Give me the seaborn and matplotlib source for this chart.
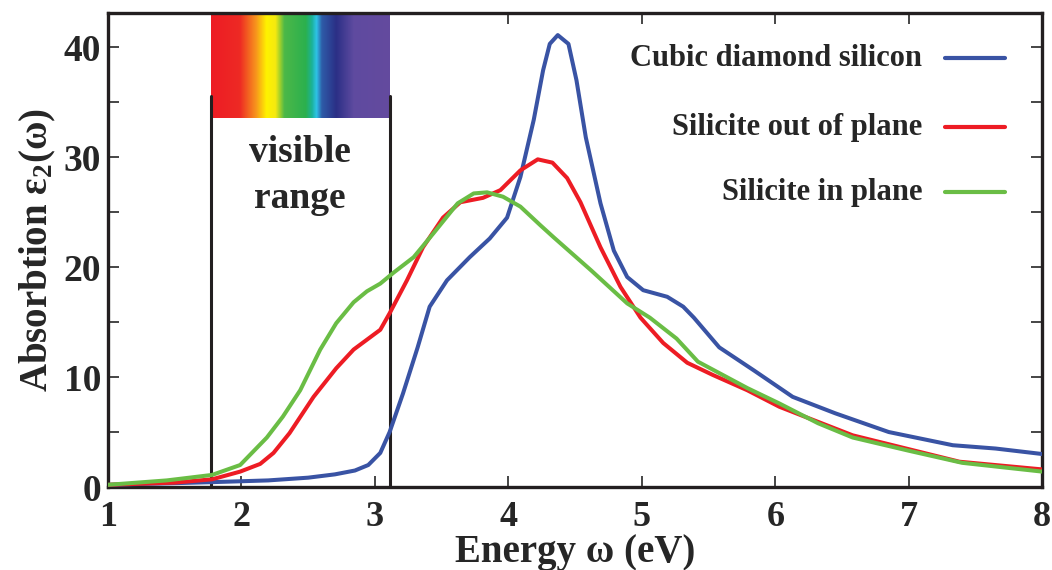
import numpy as np
import pandas as pd
import matplotlib
matplotlib.use("Agg")
import matplotlib.pyplot as plt
from matplotlib.colors import LinearSegmentedColormap
import seaborn as sns

sns.set_style("ticks")
plt.rcParams['font.family'] = ['Liberation Serif', 'DejaVu Serif']
plt.rcParams['font.weight'] = 'bold'
plt.rcParams['mathtext.fontset'] = 'custom'
plt.rcParams['mathtext.rm'] = 'Liberation Serif:bold'
plt.rcParams['mathtext.it'] = 'Liberation Serif:bold'
plt.rcParams['mathtext.bf'] = 'Liberation Serif:bold'

# cubic diamond silicon
e_cubic = [1.0, 1.5, 1.8, 2.2, 2.5, 2.7, 2.85, 2.95, 3.04, 3.11, 3.21, 3.32, 3.41, 3.54,
           3.71, 3.86, 3.99, 4.09, 4.19, 4.26, 4.31, 4.37, 4.45, 4.51, 4.58, 4.69, 4.79,
           4.89, 5.01, 5.19, 5.31, 5.39, 5.58, 5.84, 6.13, 6.45, 6.85, 7.33, 7.65, 8.0]
a_cubic = [0.2, 0.35, 0.45, 0.6, 0.85, 1.15, 1.5, 2.0, 3.1, 5.0, 8.5, 12.7, 16.4, 18.8,
           20.9, 22.6, 24.5, 28.2, 33.4, 37.9, 40.3, 41.1, 40.3, 37.0, 31.8, 25.8, 21.5,
           19.1, 17.9, 17.3, 16.4, 15.4, 12.7, 10.6, 8.2, 6.7, 5.0, 3.8, 3.5, 3.0]

# silicite out of plane
e_out = [1.0, 1.5, 1.78, 1.99, 2.14, 2.24, 2.36, 2.54, 2.71, 2.84, 3.04, 3.11, 3.24, 3.36,
         3.51, 3.64, 3.81, 3.94, 4.09, 4.22, 4.33, 4.44, 4.54, 4.69, 4.84, 4.99,
         5.16, 5.34, 5.53, 5.79, 6.03, 6.22, 6.58, 6.98, 7.38, 8.0]
a_out = [0.2, 0.4, 0.7, 1.4, 2.1, 3.1, 4.9, 8.2, 10.8, 12.5, 14.3, 15.8, 18.8, 21.8,
         24.5, 25.9, 26.3, 27.0, 28.8, 29.8, 29.5, 28.1, 25.9, 21.8, 18.2, 15.4,
         13.1, 11.3, 10.2, 8.8, 7.3, 6.4, 4.7, 3.5, 2.3, 1.6]

# silicite in plane
e_in = [1.0, 1.44, 1.78, 1.99, 2.19, 2.31, 2.44, 2.59, 2.71, 2.84, 2.94, 3.04, 3.14, 3.29,
        3.44, 3.62, 3.74, 3.84, 3.96, 4.09, 4.24, 4.34, 4.62, 4.89, 5.06, 5.26, 5.42,
        5.79, 6.03, 6.32, 6.58, 7.0, 7.4, 8.0]
a_in = [0.2, 0.6, 1.1, 2.0, 4.5, 6.4, 8.8, 12.5, 14.9, 16.8, 17.8, 18.5, 19.5, 20.9,
        23.1, 25.8, 26.7, 26.8, 26.4, 25.5, 23.8, 22.7, 19.7, 16.7, 15.4, 13.5, 11.4,
        9.0, 7.6, 5.8, 4.5, 3.3, 2.2, 1.4]

labels = ["Cubic diamond silicon", "Silicite out of plane", "Silicite in plane"]
colors = ["#3953a4", "#ed1c24", "#6abd45"]
visible = [1.77, 3.11]

df = pd.concat([
    pd.DataFrame({"E": e_cubic, "eps": a_cubic, "s": labels[0]}),
    pd.DataFrame({"E": e_out, "eps": a_out, "s": labels[1]}),
    pd.DataFrame({"E": e_in, "eps": a_in, "s": labels[2]}),
])

fig = plt.figure(figsize=(10.52, 5.7), dpi=100)
ax = fig.add_axes([0.1027, 0.1456, 0.888, 0.8314])

# visible spectrum strip
spec = LinearSegmentedColormap.from_list("spec", [
    (0.0, "#ed1c24"), (0.16, "#ee2a24"), (0.25, "#f7941d"), (0.31, "#fff200"),
    (0.36, "#f5e90f"), (0.41, "#4cb848"), (0.53, "#2bb04e"), (0.565, "#1bb39a"),
    (0.59, "#2ec4e8"), (0.62, "#2e5ca8"), (0.7, "#2b2f86"), (0.8, "#5f4ba0"),
    (1.0, "#644a9e")])
ax.imshow(np.linspace(0, 1, 256)[None, :], cmap=spec, aspect="auto",
          extent=[visible[0], visible[1], 33.6, 43.1], zorder=1)
for v in visible:
    ax.plot([v, v], [0, 35.6], color="#231f20", lw=2.2, zorder=2)
ax.text(sum(visible) / 2, 30.4, "visible", ha="center", va="center", fontsize=27, fontweight="bold")
ax.text(sum(visible) / 2, 26.2, "range", ha="center", va="center", fontsize=27, fontweight="bold")

sns.lineplot(data=df, x="E", y="eps", hue="s", palette=colors, lw=2.9, ax=ax,
             legend=False, sort=False, zorder=3)
for ln in ax.get_lines():
    ln.set_solid_joinstyle("round")

# legend drawn as text + line segments
leg_y = [39.0, 32.7, 26.8]
for lab, c, y in zip(labels, colors, leg_y):
    ax.plot([7.27, 7.72], [y, y], color=c, lw=3.0)
    ax.text(7.1, y, lab, ha="right", va="center", fontsize=22, fontweight="bold")

ax.set_xlim(1, 8)
ax.set_ylim(0, 43.1)
ax.set_xticks(range(1, 9))
ax.set_yticks([0, 10, 20, 30, 40])
ax.set_yticks([5, 15, 25, 35], minor=True)
ax.tick_params(which="both", direction="in", top=True, right=True, length=8, width=1.2,
               labelsize=27)
ax.tick_params(axis="x", pad=10, labelsize=26)
ax.tick_params(axis="y", pad=5)
for lbl in ax.get_xticklabels() + ax.get_yticklabels():
    lbl.set_fontweight("bold")
for sp in ax.spines.values():
    sp.set_linewidth(2.4)
    sp.set_color("#231f20")
ax.set_xlabel("Energy ω (eV)", fontsize=28, fontweight="bold", labelpad=0)
ax.set_ylabel("Absorbtion ε$_2$(ω)", fontsize=28, fontweight="bold", labelpad=4)

fig.savefig("out.png", dpi=100)
